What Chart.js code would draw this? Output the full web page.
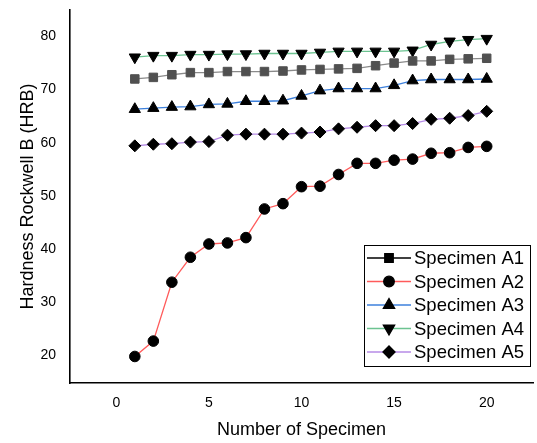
<!DOCTYPE html>
<html>
<head>
<meta charset="utf-8">
<script src="https://cdn.jsdelivr.net/npm/chart.js@4"></script>
<style>
  body { margin: 0; background: #fff; }
</style>
</head>
<body>
<canvas id="myChart" width="537" height="443"></canvas>
<script>
const specimenNo = [1, 2, 3, 4, 5, 6, 7, 8, 9, 10, 11, 12, 13, 14, 15, 16, 17, 18, 19, 20];
const specimenA1 = [72.0, 72.3, 72.8, 73.2, 73.2, 73.4, 73.4, 73.4, 73.5, 73.7, 73.8, 73.9, 74.0, 74.5, 75.0, 75.4, 75.4, 75.7, 75.8, 75.9];
const specimenA2 = [19.7, 22.6, 33.7, 38.4, 40.9, 41.1, 42.1, 47.5, 48.5, 51.7, 51.8, 54.0, 56.1, 56.1, 56.7, 56.9, 58.0, 58.1, 59.1, 59.3];
const specimenA3 = [66.3, 66.5, 66.7, 66.8, 67.2, 67.3, 67.8, 67.8, 67.9, 68.8, 69.8, 70.2, 70.2, 70.2, 70.8, 71.7, 71.9, 71.9, 71.9, 72.0];
const specimenA4 = [76.1, 76.4, 76.4, 76.6, 76.6, 76.7, 76.7, 76.8, 76.8, 76.8, 77.0, 77.2, 77.2, 77.2, 77.2, 77.4, 78.5, 79.1, 79.4, 79.6];
const specimenA5 = [59.4, 59.7, 59.8, 60.1, 60.2, 61.4, 61.6, 61.6, 61.6, 61.8, 62.0, 62.6, 62.9, 63.2, 63.2, 63.6, 64.4, 64.6, 65.1, 65.9];
const xTicks = [0, 5, 10, 15, 20];
const yTicks = [20, 30, 40, 50, 60, 70, 80];

const FONT = '"Liberation Sans", Arial, sans-serif';

function toPoints(values) {
  return values.map((v, i) => ({ x: specimenNo[i], y: v }));
}

function makeSet(label, values, lineColor, markerColor, style, radius, rotation) {
  return {
    label: label,
    data: toPoints(values),
    borderColor: lineColor,
    borderWidth: 1.3,
    pointStyle: style,
    pointRadius: radius,
    pointRotation: rotation || 0,
    pointBackgroundColor: markerColor,
    pointBorderColor: markerColor,
    pointBorderWidth: 1,
    legendLine: lineColor,
    tension: 0
  };
}

// 枠付きの凡例をプロット内に描く
const boxLegend = {
  id: 'boxLegend',
  afterDraw(chart) {
    const ctx = chart.ctx;
    const left = 364, top = 245, right = 530, bottom = 366;
    ctx.save();
    ctx.fillStyle = '#fff';
    ctx.fillRect(left, top, right - left, bottom - top);
    ctx.strokeStyle = '#000';
    ctx.lineWidth = 1;
    ctx.strokeRect(left + 0.5, top + 0.5, right - left, bottom - top);
    chart.data.datasets.forEach((ds, i) => {
      const y = 258 + i * 23.5;
      ctx.strokeStyle = i === 0 ? '#000' : ds.legendLine;
      ctx.lineWidth = 1.3;
      ctx.beginPath();
      ctx.moveTo(367, y);
      ctx.lineTo(411, y);
      ctx.stroke();
      ctx.fillStyle = '#000';
      ctx.strokeStyle = '#000';
      Chart.helpers.drawPoint(ctx, {
        pointStyle: ds.pointStyle,
        rotation: ds.pointRotation,
        radius: ds.pointRadius,
        borderWidth: 1
      }, 389, y);
      ctx.fillStyle = '#000';
      ctx.font = '18.5px ' + FONT;
      ctx.textBaseline = 'middle';
      ctx.textAlign = 'left';
      ctx.fillText(ds.label, 414, y + 1);
    });
    ctx.restore();
  }
};

const chart = new Chart(document.getElementById('myChart'), {
  type: 'line',
  data: {
    datasets: [
      makeSet('Specimen A1', specimenA1, '#8a8a8a', '#505050', 'rect', 6),
      makeSet('Specimen A2', specimenA2, '#ff5b5b', '#000', 'circle', 5.3),
      makeSet('Specimen A3', specimenA3, '#3d80dc', '#000', 'triangle', 6.5),
      makeSet('Specimen A4', specimenA4, '#6cc391', '#000', 'triangle', 6.5, 180),
      makeSet('Specimen A5', specimenA5, '#b68be6', '#000', 'rectRot', 6)
    ]
  },
  options: {
    responsive: false,
    animation: false,
    layout: { autoPadding: false, padding: { top: 10, right: 4, left: 0, bottom: 0 } },
    plugins: {
      legend: { display: false },
      tooltip: { enabled: false }
    },
    scales: {
      x: {
        type: 'linear',
        min: -2.5,
        max: 22.5,
        grid: { display: false, drawTicks: false },
        border: { display: true, color: '#000', width: 1.6 },
        afterBuildTicks: (axis) => { axis.ticks = xTicks.map(v => ({ value: v })); },
        afterFit: (axis) => {
          axis.height = 60;
          axis.paddingLeft = 0;
          axis.paddingRight = 0;
        },
        ticks: { color: '#000', padding: 12, font: { family: FONT, size: 14 } },
        title: {
          display: true,
          text: 'Number of Specimen',
          color: '#000',
          padding: { top: 0, bottom: 2 },
          font: { family: FONT, size: 18 }
        }
      },
      y: {
        type: 'linear',
        min: 14.7,
        max: 85,
        grid: { display: false, drawTicks: false },
        border: { display: true, color: '#000', width: 1.6 },
        afterBuildTicks: (axis) => { axis.ticks = yTicks.map(v => ({ value: v })); },
        afterFit: (axis) => {
          axis.width = 70;
          axis.paddingTop = 0;
          axis.paddingBottom = 0;
        },
        ticks: { color: '#000', padding: 14, font: { family: FONT, size: 14 } },
        title: {
          display: true,
          text: 'Hardness Rockwell B (HRB)',
          color: '#000',
          padding: { top: 17, bottom: 0 },
          font: { family: FONT, size: 18 }
        }
      }
    }
  },
  plugins: [boxLegend]
});
</script>
</body>
</html>
